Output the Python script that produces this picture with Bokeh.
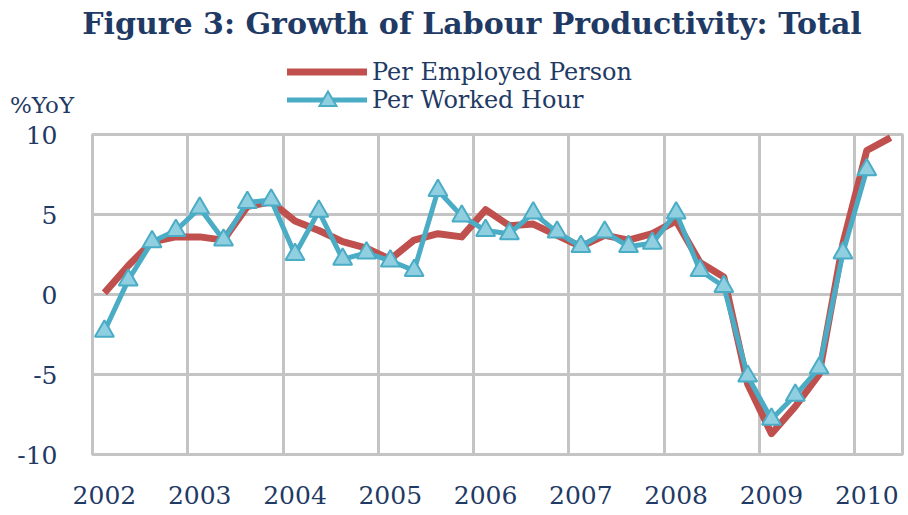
from bokeh.plotting import figure
from bokeh.layouts import column
from bokeh.models import Range1d, FixedTicker, Div
from bokeh.embed import file_html
from bokeh.resources import INLINE

# Quarterly year-on-year growth of labour productivity, 2002Q1 - 2010Q2
years = ["2002", "2003", "2004", "2005", "2006", "2007", "2008", "2009", "2010"]
per_employed_person = [
    0.1, 1.8, 3.3, 3.6, 3.6, 3.4, 5.5, 5.8,
    4.6, 4.0, 3.3, 2.9, 2.2, 3.4, 3.8, 3.6,
    5.3, 4.3, 4.4, 3.7, 3.0, 3.7, 3.4, 3.8,
    4.6, 2.0, 1.1, -5.6, -8.7, -7.0, -5.0, 3.2,
    9.0, 9.8,
]
per_worked_hour = [
    -2.3, 0.9, 3.3, 4.0, 5.4, 3.4, 5.75, 5.9,
    2.5, 5.2, 2.2, 2.6, 2.1, 1.5, 6.5, 4.9,
    4.0, 3.8, 5.1, 3.9, 3.0, 3.9, 3.0, 3.2,
    5.1, 1.5, 0.5, -5.1, -7.8, -6.3, -4.6, 2.6,
    7.8,
]
y_ticks = [-10, -5, 0, 5, 10]

title_text = "Figure 3: Growth of Labour Productivity: Total"
series_names = ["Per Employed Person", "Per Worked Hour"]
unit_text = "%YoY"

RED = "#c0504d"
AQUA = "#4bacc6"
AQUA_FILL = "#8fcfe0"
NAVY = "#1f3a64"
GRID = "#c4c4c4"
FONT = "DejaVu Serif"

W = 908
HEAD_H = 120
MAIN_H = 515 - HEAD_H

# ---- header block: title, legend and unit label ----
red_key = (f'<svg width="80" height="28" style="display:block">'
           f'<line x1="0" y1="14" x2="80" y2="14" stroke="{RED}" '
           f'stroke-width="7"/></svg>')
aqua_key = (f'<svg width="80" height="28" style="display:block">'
            f'<line x1="0" y1="14" x2="80" y2="14" stroke="{AQUA}" '
            f'stroke-width="5"/>'
            f'<polygon points="41,5.5 49.5,20 32.5,20" fill="{AQUA_FILL}" '
            f'stroke="{AQUA}" stroke-width="2"/></svg>')

text_css = f"font-family:'{FONT}';color:{NAVY};white-space:nowrap;position:absolute;"
header_html = f"""
<div style="position:relative;width:{W}px;height:{HEAD_H}px;overflow:hidden;background:white;">
  <div style="{text_css}left:42px;width:860px;top:6px;line-height:36px;
              font-size:30px;font-weight:bold;text-align:center;">{title_text}</div>
  <div style="position:absolute;left:287px;top:58px;">{red_key}</div>
  <div style="position:absolute;left:287px;top:86px;">{aqua_key}</div>
  <div style="{text_css}left:372px;top:59px;line-height:26px;font-size:24px;">{series_names[0]}</div>
  <div style="{text_css}left:372px;top:87px;line-height:26px;font-size:24px;">{series_names[1]}</div>
  <div style="{text_css}left:10px;top:92px;line-height:26px;font-size:23px;">{unit_text}</div>
</div>
"""
header = Div(text=header_html, width=W, height=HEAD_H, margin=(0, 0, 0, 0))

# ---- main chart ----
n_q = len(per_employed_person)
p = figure(width=W, height=MAIN_H, output_backend="svg", toolbar_location=None,
           x_range=Range1d(-0.5, n_q - 0.5), y_range=Range1d(-10, 10),
           min_border_left=92, min_border_right=6,
           min_border_top=14, min_border_bottom=61, margin=(0, 0, 0, 0))

xs_red = list(range(len(per_employed_person)))
xs_blue = list(range(len(per_worked_hour)))

p.line(xs_red, per_employed_person, line_color=RED, line_width=7,
       line_join="round")
p.line(xs_blue, per_worked_hour, line_color=AQUA, line_width=5,
       line_join="round")
p.scatter(xs_blue, per_worked_hour, marker="triangle", size=19,
          fill_color=AQUA_FILL, line_color=AQUA, line_width=2)

# year labels sit on the first quarter of each year; grid lines between years
label_pos = [4 * i for i in range(len(years))]
p.xaxis.ticker = FixedTicker(ticks=label_pos)
p.xaxis.major_label_overrides = {pos: yr for pos, yr in zip(label_pos, years)}
p.xgrid.ticker = FixedTicker(ticks=[pos - 0.5 for pos in label_pos])
p.yaxis.ticker = FixedTicker(ticks=y_ticks)
p.yaxis.major_label_overrides = {t: str(t) for t in y_ticks}
p.ygrid.ticker = FixedTicker(ticks=y_ticks)

for ax in (p.xaxis, p.yaxis):
    ax.axis_line_color = None
    ax.major_tick_line_color = None
    ax.minor_tick_line_color = None
    ax.major_label_text_font = FONT
    ax.major_label_text_color = NAVY
    ax.major_label_text_font_size = "25px"
p.xaxis.major_label_standoff = 25
p.yaxis.major_label_standoff = 29

p.grid.grid_line_color = GRID
p.grid.grid_line_width = 3
p.outline_line_color = GRID
p.outline_line_width = 3
p.background_fill_color = "white"
p.border_fill_color = "white"

layout = column(header, p, spacing=0)
open("out.html", "w").write(file_html(layout, INLINE))
